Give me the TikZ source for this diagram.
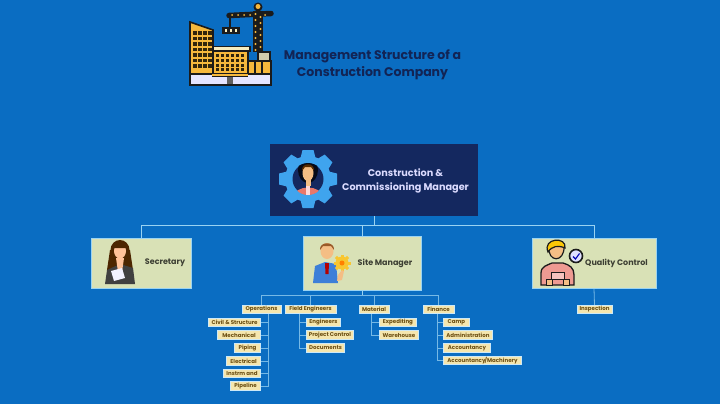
\documentclass[tikz,border=0pt]{standalone}
\usepackage{fontspec}
\usetikzlibrary{backgrounds}
\setmainfont{Poppins}
\definecolor{bgblue}{HTML}{0A6DC2}
\definecolor{navy}{HTML}{14285F}
\definecolor{linec}{HTML}{9AD3F2}
\definecolor{sage}{HTML}{D9E1B6}
\definecolor{cream}{HTML}{F6EDC0}
\definecolor{subfill}{HTML}{F5E6AE}
\definecolor{subtext}{HTML}{6B4E12}
\definecolor{gold}{HTML}{F6B83C}
\definecolor{ink}{HTML}{1B1B1B}
\definecolor{gearc}{HTML}{3FA4EE}
\definecolor{skin}{HTML}{F4BE85}
\definecolor{salmon}{HTML}{E9786A}
\definecolor{pinkshirt}{HTML}{EE9A92}
\definecolor{hairbrown}{HTML}{9A5A28}
\definecolor{mgrblue}{HTML}{3D7FD8}
\tikzset{
  conn/.style={draw=linec,line width=1pt},
  thinconn/.style={draw=linec!75!bgblue,line width=0.8pt},
  role/.style={draw=linec,line width=1pt,fill=sage,inner sep=0pt,minimum height=50pt},
  rolet/.style={font=\fontsize{8}{10}\selectfont\bfseries,text=black!72!sage,inner sep=0pt},
  sub/.style={draw=linec!50!white,line width=0.9pt,fill=subfill,inner sep=0pt,minimum height=8.5pt,
    font=\fontsize{5.5}{6}\selectfont\bfseries,text=subtext},
  icon/.style={draw=ink,line width=1pt},
}
\begin{document}
\begin{tikzpicture}[x=1pt,y=-1pt]
\useasboundingbox (0,0) rectangle (720,404);
\begin{scope}[on background layer]
\fill[bgblue] (0,0) rectangle (720,404);
\end{scope}

% Nodes
\node[draw=none,fill=navy,minimum width=208pt,minimum height=72pt,inner sep=0pt] (top) at (374,180) {};
\node[role,minimum width=99.5pt] (sec) at (141.25,263) {};
\node[role,minimum width=118pt,minimum height=54pt,line width=1.6pt] (site) at (362.5,263.5) {};
\node[role,minimum width=124pt] (qc) at (594,263) {};

\coordinate (bus) at (374,225);
\coordinate (subbus) at (362.5,295.5);
\coordinate (opsv) at (268,314);
\coordinate (fieldv) at (299,314);
\coordinate (matv) at (371,314);
\coordinate (finv) at (437,314);

% Sub nodes
\node[sub,minimum width=39pt] (ops) at (261.5,309.5) {Operations};
\node[sub,minimum width=51pt] (field) at (310.5,309.5) {Field Engineers};
\node[sub,minimum width=30pt] (mat) at (374,309.5) {Material};
\node[sub,minimum width=31pt] (fin) at (438.5,309.5) {Finance};
\node[sub,minimum width=35pt] (insp) at (594.5,309.5) {Inspection};

\node[sub,minimum width=52pt,anchor=east] (civil) at (261,322.5) {Civil \& Structure};
\node[sub,minimum width=43pt,anchor=east] (mech) at (261,335) {Mechanical};
\node[sub,minimum width=26pt,anchor=east] (pip) at (261,348) {Piping};
\node[sub,minimum width=34pt,anchor=east] (elec) at (261,361) {Electrical};
\node[sub,minimum width=37pt,anchor=east] (inst) at (261,373.5) {Instrm and};
\node[sub,minimum width=30pt,anchor=east] (pipe) at (261,386) {Pipeline};

\node[sub,minimum width=34pt,anchor=west] (eng) at (306,322.5) {Engineers};
\node[sub,minimum width=47pt,anchor=west] (proj) at (306,335) {Project Control};
\node[sub,minimum width=38pt,anchor=west] (doc) at (306,348) {Documents};

\node[sub,minimum width=37pt,anchor=west] (exp) at (379,322.5) {Expediting};
\node[sub,minimum width=39pt,anchor=west] (ware) at (379,335) {Warehouse};

\node[sub,minimum width=26pt,anchor=west] (camp) at (443,322.5) {Camp};
\node[sub,minimum width=49pt,anchor=west] (adm) at (443,335) {Administration};
\node[sub,minimum width=47pt,anchor=west] (acc) at (443,348) {Accountancy};
\node[sub,minimum width=78pt,anchor=west] (accm) at (443,360.5) {Accountancy\!/Machinery};

% Connectors
\begin{scope}[on background layer]
\draw[conn] (top.south) -- (bus);
\draw[conn] (bus) -| (sec.north);
\draw[conn] (bus) -| (qc.north);
\draw[conn] (bus) -| (site.north);
\draw[conn] (site.south) -- (subbus);
\draw[thinconn] (subbus) -| (ops.north);
\draw[thinconn] (subbus) -| (field.north);
\draw[thinconn] (subbus) -| (mat.north);
\draw[thinconn] (subbus) -| (fin.north);
\draw[thinconn] (qc.south) -- (insp.north);
\foreach \c in {civil,mech,pip,elec,inst,pipe}
  \draw[thinconn] (opsv) |- (\c.east);
\foreach \c in {eng,proj,doc}
  \draw[thinconn] (fieldv) |- (\c.west);
\foreach \c in {exp,ware}
  \draw[thinconn] (matv) |- (\c.west);
\foreach \c in {camp,adm,acc,accm}
  \draw[thinconn] (finv) |- (\c.west);
\end{scope}

% Title
\node[inner sep=0pt,align=center,font=\fontsize{12.5}{17}\selectfont\bfseries,text=navy!90!black] (title) at (372.5,64.5)
  {Management Structure of a\\Construction Company};

% Building + crane icon
\draw[ink,line width=9.5pt] (258,11) -- (258,52);
\draw[ink,line width=5.5pt,line cap=round] (229,15.5) -- (271,13.5);
\fill[ink] (258,7) circle (4.5);
\fill[gold] (258,6.5) circle (2.5);
\draw[ink,line width=1.2pt] (230,17) -- (230,27);
\fill[ink] (222,27) rectangle (240,34);
\foreach \x in {226,231,236} \fill[cream] (\x-1.4,29) rectangle ++(2.8,3);
\foreach \y in {14,20,26,32,38,44,50} {
  \fill[gold] (255.5,\y) circle (1.2);
  \fill[gold] (260.5,\y+3) circle (1.2);
}
\foreach \x in {232,238,244,250,265} \fill[gold] (\x,15) circle (1);
\draw[ink,line width=1.6pt,fill=gold] (190,22) -- (213,30) -- (213,74) -- (190,74) -- cycle;
\foreach \y in {33,38.5,44,49.5,55,60.5,66} \foreach \x in {195,200,205,210}
  \fill[black!80!gold] (\x-1.6,\y-1.6) rectangle ++(3.2,3.2);
\draw[ink,line width=1.3pt,fill=gold] (213,50) rectangle (248,74);
\draw[ink,line width=1.3pt,fill=cream] (213,46.5) rectangle (250,51);
\foreach \y in {56,61,66,70} \foreach \x in {217,222,227,232,237,242}
  \fill[black!80!gold] (\x-1.5,\y-1.5) rectangle ++(3,3);
\draw[ink,line width=1.3pt,fill=gold] (248,61) rectangle (271,74);
\draw[ink,line width=1.2pt] (255,61) -- (255,74) (262,61) -- (262,74);
\draw[ink,line width=1.2pt,fill=cream!70!gray] (258,52) rectangle (270,61);
% base
\draw[ink,line width=1.6pt,fill=blue!10!white] (190,74) rectangle (271,85);
\fill[ink!70!white] (227,77) rectangle (233,84);
\fill[gold] (212,74) rectangle (248,76.5);
\draw[ink,line width=1pt] (212,76.5) -- (248,76.5);

% Top box: gear + person
\fill[gearc] (308,179) circle (23);
\foreach \a in {0,45,...,315}
  \fill[gearc,rotate around={\a:(308,179)}] (302.5,150) -- (313.5,150) -- (316,160) -- (300,160) -- cycle;
\fill[navy] (308,179) circle (15.5);
\begin{scope}
\clip (308,179) circle (16);
\fill[black!75!navy] (308,170) ellipse (10 and 13);
\fill[salmon] (293,198) .. controls (294,184) and (322,184) .. (323,198) -- cycle;
\fill[white!85!red] (306,184) rectangle (310,196);
\end{scope}
\fill[skin] (308,173) ellipse (5.5 and 8);
\fill[skin] (305.5,178) rectangle (310.5,186);
\fill[black!65!orange] (302,171) .. controls (301,162) and (315,162) .. (314,171) -- (311,167) -- (305,167) -- cycle;
\node[inner sep=0pt,align=center,font=\fontsize{9.7}{14}\selectfont\bfseries,text=blue!14!white] (toptext) at (405.5,181)
  {Construction \&\\Commissioning Manager};

% Secretary icon + label
\fill[black!70!orange] (120,250) ellipse (9.5 and 10);
\fill[black!70!orange] (110,250) -- (130,250) -- (133,270) -- (107,270) -- cycle;
\fill[black!75] (105,284) -- (107,270) -- (120,264) -- (133,268) -- (135,284) -- cycle;
\fill[red!20!orange!40!white] (120,251) ellipse (6 and 7.5);
\fill[red!20!orange!40!white] (116,258) -- (124,258) -- (122,272) -- (118,272) -- cycle;
\fill[black!70!orange] (112.5,248) .. controls (114,241) and (126,241) .. (127.5,248) -- cycle;
\fill[blue!5!white] (111,271) -- (122,268) -- (125,278) -- (114,281) -- cycle;
\node[rolet] (sectext) at (165,263) {Secretary};

% Site manager icon + label
\fill[mgrblue] (313,283) -- (315,266) -- (325,262) -- (336,264) -- (338,283) -- cycle;
\fill[skin] (327,251) ellipse (6.5 and 8);
\fill[hairbrown] (320,250) .. controls (319,241) and (335,241) .. (334,250) -- (331,246) -- (323,246) -- cycle;
\fill[red!70!black] (325,263) -- (329,263) -- (328.5,274) -- (325.5,274) -- cycle;
\fill[gold!80!yellow] (342,263) circle (6.5);
\foreach \a in {0,45,...,315} \fill[gold!80!yellow,rotate around={\a:(342,263)}] (340.5,254.5) rectangle (343.5,258);
\fill[orange] (342,263) circle (2.5);
\fill[skin] (338,275) -- (342,270) -- (344,271) -- (342,280) -- (337,281) -- cycle;
\node[rolet] (sitetext) at (385,263) {Site Manager};

% Quality control icon + label
\draw[ink,line width=1.3pt,fill=pinkshirt] (541,285) -- (541,273) .. controls (541,266) and (548,265) .. (552,263) -- (563,263) .. controls (570,265) and (574,268) .. (574,275) -- (574,285) -- cycle;
\draw[ink,line width=1.2pt,fill=skin] (549,246) .. controls (547,263) and (565,263) .. (564,246) -- cycle;
\draw[ink,line width=1.2pt,fill=yellow!60!orange] (548,252) .. controls (542,238) and (567,236) .. (565,248) .. controls (558,245) and (552,246) .. (548,252) -- cycle;
\draw[icon,fill=pinkshirt!60!white] (551,272) rectangle (564,279);
\draw[icon,fill=skin] (546,279) rectangle (552,285);
\draw[icon,fill=skin] (563,279) rectangle (569,285);
\draw[ink,line width=1.6pt,fill=blue!12!white] (576,256) circle (6.5);
\draw[blue!70!black,line width=1.1pt] (573,256.5) -- (575.5,259) -- (579.5,253.5);
\node[rolet] (qctext) at (616.5,263) {Quality Control};
\end{tikzpicture}
\end{document}
